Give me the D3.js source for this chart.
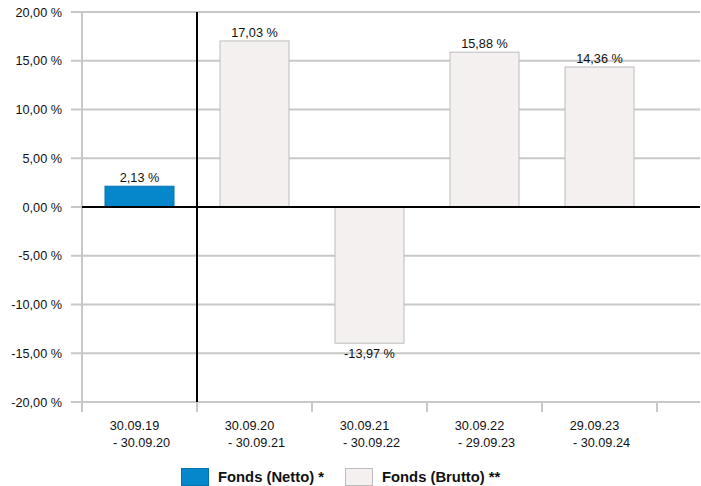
<!DOCTYPE html>
<html>
<head>
<meta charset="utf-8">
<script src="https://d3js.org/d3.v7.min.js"></script>
<style>
    body { margin:0; background:#fff; }
    text { font-family: "Liberation Sans", Arial, sans-serif; }
</style>
</head>
<body>
<svg id="chart" width="701" height="486"></svg>
<script>
    var periods = ["30.09.19|- 30.09.20", "30.09.20|- 30.09.21", "30.09.21|- 30.09.22", "30.09.22|- 29.09.23", "29.09.23|- 30.09.24"];
    var netto = [2.13, null, null, null, null];
    var brutto = [null, 17.03, -13.97, 15.88, 14.36];
    var yTicks = [-20, -15, -10, -5, 0, 5, 10, 15, 20];
    var legendNames = ["Fonds (Netto) *", "Fonds (Brutto) **"];

    var colors = { netto: "#0787cb", brutto: "#f3f0ef", bruttoStroke: "#bdbdbd", nettoStroke: "#0672ab" };
    var fmt = function(v) { return v.toFixed(2).replace(".", ",") + " %"; };
    var fs = 12.7;

    var svg = d3.select("#chart");
    var plotLeft = 82, plotRight = 700, plotTop = 12, plotBottom = 402;

    var xScale = d3.scaleBand()
        .domain(periods)
        .range([plotLeft, plotLeft + 115 * 5])
        .paddingInner(0)
        .paddingOuter(0);
    var yScale = d3.scaleLinear()
        .domain([-20, 20])
        .range([plotBottom, plotTop]);

    // grid
    svg.append("g")
        .selectAll("line")
        .data(yTicks)
        .enter()
        .append("line")
        .attr("x1", plotLeft - 11)
        .attr("x2", plotRight)
        .attr("y1", function(d) { return yScale(d); })
        .attr("y2", function(d) { return yScale(d); })
        .attr("stroke", "#c8c8c8")
        .attr("stroke-width", 2);

    // y labels
    svg.append("g")
        .selectAll("text")
        .data(yTicks)
        .enter()
        .append("text")
        .attr("x", 62)
        .attr("y", function(d) { return yScale(d) + 4.5; })
        .attr("text-anchor", "end")
        .attr("font-size", fs)
        .attr("fill", "#111")
        .text(function(d) { return fmt(d); });

    // left axis + category ticks
    var tickXs = periods.map(function(p) { return xScale(p); });
    tickXs.push(xScale(periods[4]) + xScale.bandwidth());
    svg.append("line")
        .attr("x1", plotLeft).attr("x2", plotLeft)
        .attr("y1", plotTop).attr("y2", plotBottom + 10)
        .attr("stroke", "#c8c8c8").attr("stroke-width", 2);
    svg.append("g")
        .selectAll("line")
        .data(tickXs.slice(1))
        .enter()
        .append("line")
        .attr("x1", function(d) { return d; })
        .attr("x2", function(d) { return d; })
        .attr("y1", plotBottom)
        .attr("y2", plotBottom + 10)
        .attr("stroke", "#c8c8c8")
        .attr("stroke-width", 2);

    var barW = 70;
    var barX = function(i) { return xScale(periods[i]) + (xScale.bandwidth() - barW) / 2; };

    // bars
    var drawBars = function(values, fill, stroke) {
        var data = values.map(function(v, i) { return { v: v, i: i }; })
            .filter(function(d) { return d.v !== null; });
        svg.append("g")
            .selectAll("rect")
            .data(data)
            .enter()
            .append("rect")
            .attr("x", function(d) { return barX(d.i) + 0.5; })
            .attr("y", function(d) { return yScale(Math.max(0, d.v)); })
            .attr("width", barW - 1)
            .attr("height", function(d) { return Math.abs(yScale(d.v) - yScale(0)); })
            .attr("fill", fill)
            .attr("stroke", stroke)
            .attr("stroke-width", 1);
        svg.append("g")
            .selectAll("text")
            .data(data)
            .enter()
            .append("text")
            .attr("x", function(d) { return barX(d.i) + barW / 2; })
            .attr("y", function(d) { return d.v >= 0 ? yScale(d.v) - 4 : yScale(d.v) + 15; })
            .attr("text-anchor", "middle")
            .attr("font-size", fs)
            .attr("fill", "#111")
            .text(function(d) { return fmt(d.v); });
    };
    drawBars(netto, colors.netto, colors.nettoStroke);
    drawBars(brutto, colors.brutto, colors.bruttoStroke);

    // zero line and separator
    svg.append("line")
        .attr("x1", plotLeft).attr("x2", plotRight)
        .attr("y1", yScale(0)).attr("y2", yScale(0))
        .attr("stroke", "#000").attr("stroke-width", 2);
    svg.append("line")
        .attr("x1", xScale(periods[1])).attr("x2", xScale(periods[1]))
        .attr("y1", plotTop).attr("y2", plotBottom)
        .attr("stroke", "#000").attr("stroke-width", 2);

    // x labels
    var xl = svg.append("g")
        .selectAll("text")
        .data(periods)
        .enter()
        .append("text")
        .attr("font-size", fs)
        .attr("fill", "#111")
        .attr("text-anchor", "middle");
    xl.append("tspan")
        .attr("x", function(d) { return xScale(d) + xScale.bandwidth() / 2 - 5; })
        .attr("y", 430)
        .text(function(d) { return d.split("|")[0]; });
    xl.append("tspan")
        .attr("x", function(d) { return xScale(d) + xScale.bandwidth() / 2 + 2; })
        .attr("y", 447)
        .text(function(d) { return d.split("|")[1]; });

    // legend
    var legend = [
        { name: legendNames[0], x: 181, fill: colors.netto, stroke: colors.nettoStroke },
        { name: legendNames[1], x: 345, fill: colors.brutto, stroke: colors.bruttoStroke }
    ];
    var lg = svg.append("g")
        .selectAll("g")
        .data(legend)
        .enter()
        .append("g");
    lg.append("rect")
        .attr("x", function(d) { return d.x + 0.5; })
        .attr("y", 468.5)
        .attr("width", 27)
        .attr("height", 17)
        .attr("fill", function(d) { return d.fill; })
        .attr("stroke", function(d) { return d.stroke; });
    lg.append("text")
        .attr("x", function(d) { return d.x + 37; })
        .attr("y", 482)
        .attr("font-size", 14.8)
        .attr("font-weight", "bold")
        .attr("fill", "#111")
        .text(function(d) { return d.name; });
</script>
</body>
</html>
